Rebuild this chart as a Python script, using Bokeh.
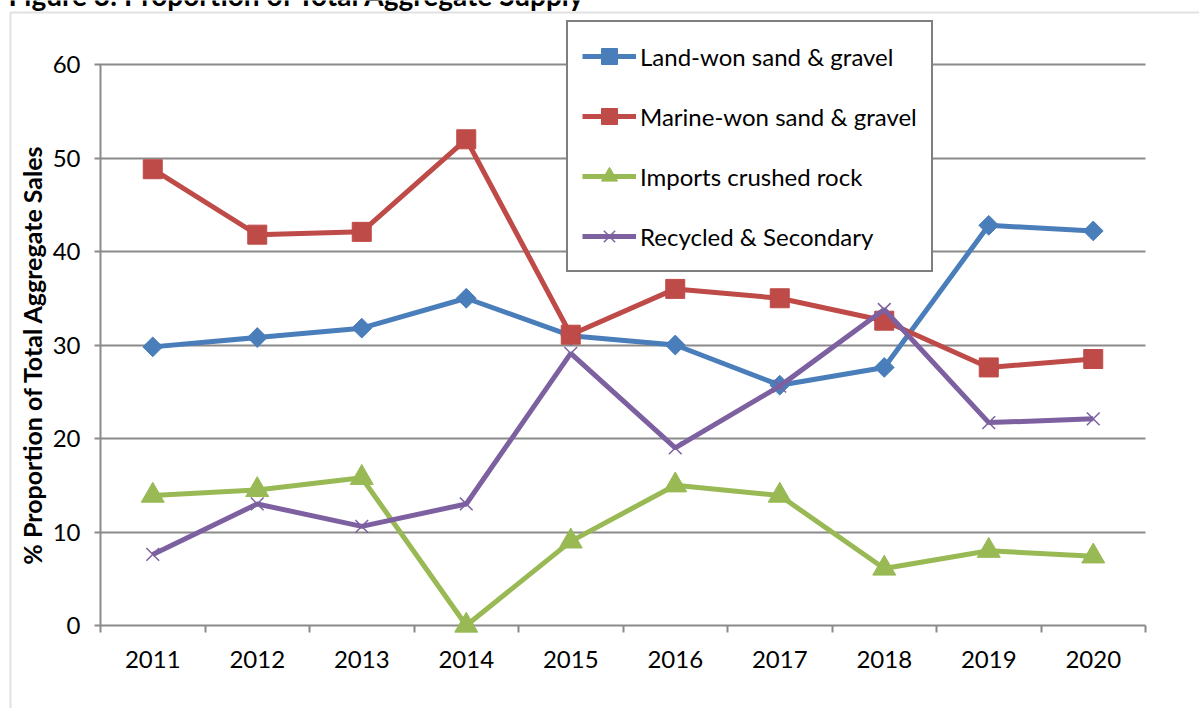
from bokeh.plotting import figure
from bokeh.models import (Legend, LegendItem, Label, FixedTicker, BoxAnnotation, Node,
                          LinearAxis)
from bokeh.embed import file_html
from bokeh.resources import INLINE
import math

years = [2011, 2012, 2013, 2014, 2015, 2016, 2017, 2018, 2019, 2020]
land_won = [29.8, 30.8, 31.8, 35.0, 31.0, 30.0, 25.7, 27.6, 42.8, 42.2]
marine_won = [48.8, 41.8, 42.1, 52.0, 31.1, 36.0, 35.0, 32.6, 27.6, 28.5]
imports_rock = [13.9, 14.5, 15.8, 0.0, 9.0, 15.0, 13.9, 6.1, 8.0, 7.4]
recycled = [7.6, 13.0, 10.6, 13.0, 29.1, 19.0, 25.6, 33.8, 21.7, 22.1]
y_ticks = [0, 10, 20, 30, 40, 50, 60]

title_text = "Figure 3: Proportion of Total Aggregate Supply"
y_label = "% Proportion of Total Aggregate Sales"
names = ["Land-won sand & gravel", "Marine-won sand & gravel",
         "Imports crushed rock", "Recycled & Secondary"]

FONT = "Lato"
GRID = "#8a8a8a"

# page geometry (pixels) of the plotting area inside the 1199x708 canvas
W, H = 1199, 708
PL, PR, PT, PB = 100, 1145, 64, 625
x0, x1 = years[0] - 0.5, years[-1] + 0.5
y0, y1 = y_ticks[0], y_ticks[-1]
xs = (PR - PL) / (x1 - x0)
ys = (PB - PT) / (y1 - y0)
xr = (x0 - PL / xs, x1 + (W - PR) / xs)
yr = (y0 - (H - PB) / ys, y1 + PT / ys)

p = figure(width=W, height=H, output_backend="svg", toolbar_location=None,
           x_range=xr, y_range=yr,
           min_border_left=0, min_border_right=0, min_border_top=0,
           min_border_bottom=0)
p.outline_line_color = None
p.background_fill_color = "white"
p.border_fill_color = "white"
p.xgrid.visible = False
p.ygrid.visible = False

# x axis: year labels at centres, short ticks at category boundaries
p.xaxis.fixed_location = y0
p.xaxis.level = "underlay"
p.xaxis.ticker = FixedTicker(ticks=years,
                             minor_ticks=[y - 0.5 for y in years] + [years[-1] + 0.5])
p.xaxis.major_tick_out = 0
p.xaxis.major_tick_in = 0
p.xaxis.minor_tick_out = 7
p.xaxis.minor_tick_in = 0
p.xaxis.minor_tick_line_color = GRID
p.xaxis.minor_tick_line_width = 2
p.xaxis.axis_line_color = None
p.xaxis.major_label_standoff = 18
p.xaxis.major_label_text_font = FONT
p.xaxis.major_label_text_font_size = "24px"
p.xaxis.major_label_text_color = "black"

# y axis: ticks extend across the plot area as grid lines
p.yaxis.fixed_location = x0
p.yaxis.level = "underlay"
p.yaxis.ticker = FixedTicker(ticks=y_ticks, minor_ticks=[])
p.yaxis.major_tick_out = 6
p.yaxis.major_tick_in = PR - PL
p.yaxis.major_tick_line_color = GRID
p.yaxis.major_tick_line_width = 2
p.yaxis.axis_line_color = None
p.yaxis.major_label_standoff = 14
p.yaxis.major_label_text_font = FONT
p.yaxis.major_label_text_font_size = "24px"
p.yaxis.major_label_text_color = "black"
p.yaxis.axis_label = y_label
p.yaxis.axis_label_text_font = FONT
p.yaxis.axis_label_text_font_size = "25px"
p.yaxis.axis_label_text_font_style = "bold"
p.yaxis.axis_label_text_color = "black"
p.yaxis.axis_label_standoff = 3

# vertical axis rule at the left edge of the plot area
rule = LinearAxis(fixed_location=y0, ticker=FixedTicker(ticks=[x0], minor_ticks=[]),
                  major_tick_in=PB - PT, major_tick_out=0,
                  major_tick_line_color=GRID, major_tick_line_width=2,
                  axis_line_color=None, major_label_text_color=None,
                  minor_tick_line_color=None, level="underlay")
p.add_layout(rule, "below")

series = [
    (land_won, "#4a7ebb", "square", 14, math.pi / 4, 0),
    (marine_won, "#be4b48", "square", 19, 0, 0),
    (imports_rock, "#98b954", "triangle", 23, 0, 0),
    (recycled, "#7d60a0", "x", 18, 0, 1.5),
]

items = []
for (vals, col, mk, sz, ang, lw), nm in zip(series, names):
    r1 = p.line(years, vals, line_color=col, line_width=5)
    if mk == "x":
        r2 = p.scatter(years, vals, marker=mk, size=sz, line_color=col, line_width=lw)
    else:
        r2 = p.scatter(years, vals, marker=mk, size=sz, angle=ang,
                       fill_color=col, line_color=col, line_width=1)
    items.append(LegendItem(label=nm, renderers=[r1, r2]))

legend = Legend(items=items, location=(566, H - 272), orientation="vertical",
                label_text_font=FONT, label_text_font_size="24px",
                label_text_color="black", glyph_width=54, glyph_height=40,
                label_height=22, spacing=20, padding=14, margin=0,
                label_standoff=4,
                border_line_color="black", border_line_width=2,
                background_fill_color="white", background_fill_alpha=1)
p.add_layout(legend, "center")

# outer border (left and top only visible)
border = BoxAnnotation(left=Node(target="canvas", symbol="left", offset=10),
                       top=Node(target="canvas", symbol="top", offset=12),
                       right=Node(target="canvas", symbol="right", offset=20),
                       bottom=Node(target="canvas", symbol="bottom", offset=20),
                       fill_color=None, fill_alpha=0, line_color="#9a9a9a",
                       line_width=2, level="underlay")
p.add_layout(border)

title = Label(x=8, y=H + 6, x_units="screen", y_units="screen",
              text=title_text, text_font=FONT, text_font_size="28px",
              text_font_style="bold", text_color="black",
              text_baseline="alphabetic")
p.add_layout(title)

open("out.html", "w").write(file_html(p, INLINE))
